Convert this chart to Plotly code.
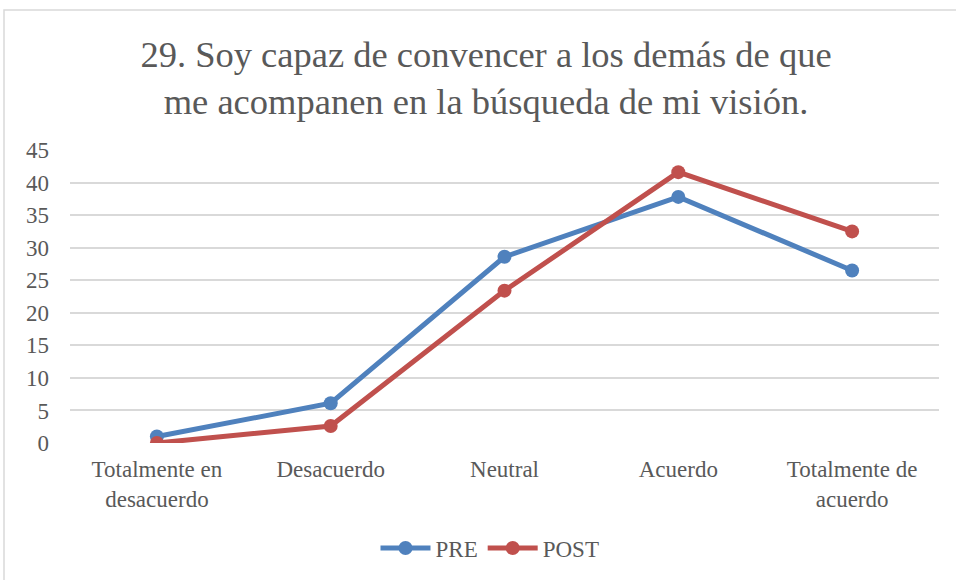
import plotly.graph_objects as go

categories = ["Totalmente en<br>desacuerdo", "Desacuerdo", "Neutral", "Acuerdo", "Totalmente de<br>acuerdo"]
pre_values = [1.0, 6.1, 28.6, 37.8, 26.5]
post_values = [0.0, 2.6, 23.4, 41.6, 32.5]
y_ticks = [0, 5, 10, 15, 20, 25, 30, 35, 40, 45]

FONT = "Liberation Serif, Times New Roman, serif"
GRAY = "#595959"

fig = go.Figure()
fig.add_trace(go.Scatter(x=categories, y=pre_values, name="PRE", mode="lines+markers",
                         line=dict(color="#4f81bd", width=5),
                         marker=dict(color="#4f81bd", size=14)))
fig.add_trace(go.Scatter(x=categories, y=post_values, name="POST", mode="lines+markers",
                         line=dict(color="#c0504d", width=5),
                         marker=dict(color="#c0504d", size=14)))

W, H = 956, 580
ml, mr, mt, mb = 70, 17, 150, 137
pw, ph = W - ml - mr, H - mt - mb

def px_x(px):
    return (px - ml) / pw

def px_y(py):
    return (H - mb - py) / ph

fig.update_layout(
    width=W, height=H,
    margin=dict(l=ml, r=mr, t=mt, b=mb),
    paper_bgcolor="white", plot_bgcolor="white",
    font=dict(family=FONT, color=GRAY, size=23),
    title=dict(text="29. Soy capaz de convencer a los demás de que<br>me acompanen en la búsqueda de mi visión.",
               x=486 / W, xref="container", xanchor="center",
               y=1 - 67 / H, yref="container", yanchor="middle",
               font=dict(family=FONT, size=36.5, color=GRAY)),
    xaxis=dict(showgrid=False, showline=False, zeroline=False, ticks="", range=[-0.5, 4.5],
               tickfont=dict(family=FONT, size=23, color=GRAY), ticklabelstandoff=10),
    yaxis=dict(range=[0, 45], tickvals=y_ticks, showgrid=True, gridcolor="#d9d9d9", gridwidth=1.5,
               zeroline=False, showline=False, ticks="",
               tickfont=dict(family=FONT, size=23, color=GRAY), ticklabelstandoff=20),
    legend=dict(orientation="h", x=490 / W, xref="container", xanchor="center",
                y=1 - 548 / H, yref="container", yanchor="middle", itemwidth=50,
                font=dict(family=FONT, size=23, color=GRAY)),
    showlegend=True,
    shapes=[dict(type="rect", xref="paper", yref="paper",
                 x0=px_x(4), x1=px_x(990), y0=px_y(700), y1=px_y(10),
                 line=dict(color="#d9d9d9", width=1.5), fillcolor="rgba(0,0,0,0)", layer="below")],
)

fig.write_html("out.html", config={"displayModeBar": False},
               post_script="document.body.style.margin='0';")
